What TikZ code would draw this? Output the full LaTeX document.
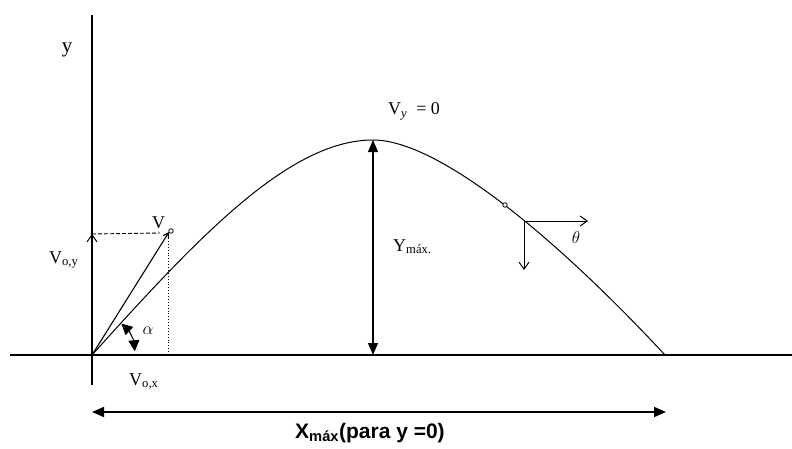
\documentclass[tikz,border=0pt]{standalone}
\usepackage{fontspec}
\setmainfont{Liberation Serif}
\newfontfamily\labsans{Liberation Sans}
\usetikzlibrary{arrows.meta}
\begin{document}
\begin{tikzpicture}[x=1pt,y=1pt,
  axis/.style={line width=2.6pt},
  traj/.style={line width=1pt},
  dimline/.style={line width=1.3pt,{Triangle[length=12pt,width=10pt]}-{Triangle[length=12pt,width=10pt]}},
  openarrow/.style={line width=1pt,-{Straight Barb[length=7pt,width=10pt]}},
  lab/.style={font=\fontsize{18}{20}\selectfont, inner sep=0pt},
  dot/.style={circle,draw,fill=white,line width=0.8pt,inner sep=0pt,minimum size=5pt}
]
\useasboundingbox (0,0) rectangle (792,448);
% axes
\coordinate (O) at (92,93);
\coordinate (ytop) at (92,433);
\coordinate (ybot) at (92,63);
\coordinate (xl) at (10,93);
\coordinate (xr) at (792,93);
\draw[axis] (ybot) -- (ytop);
\draw[axis] (xl) -- (xr);
% trajectory
\coordinate (peak) at (373,308);
\coordinate (land) at (665,93);
\draw[traj] (O) .. controls (200,213) and (290,308) .. (peak)
  .. controls (440,308) and (560,206) .. (land);
% Y max
\coordinate (ymb) at (373,93);
\draw[dimline] (ymb) -- (peak);
% initial velocity
\coordinate (Vtip) at (169,216);
\coordinate (Voy) at (92,214);
\coordinate (Vdash) at (160,215);
\coordinate (Vdt) at (168,210);
\coordinate (Vdb) at (168,93);
\draw[line width=1.1pt,-{Straight Barb[length=5pt,width=6pt]}] (O) -- (Vtip);
\node[dot,minimum size=4.5pt] (vtipdot) at (171,217) {};
\draw[openarrow] (O) -- (Voy);
\draw[line width=0.9pt,dash pattern=on 4pt off 2pt] (Voy) -- (Vdash);
\draw[line width=0.9pt,dotted] (Vdt) -- (Vdb);
% angle alpha
\draw[line width=1.1pt,{Triangle[length=11pt,width=11pt]}-{Triangle[length=11pt,width=11pt]}]
  ([shift={(5:43)}]O) arc[start angle=5,end angle=47,radius=43];
% point on curve and components
\node[dot,minimum size=4.5pt] (cdot) at (505,243) {};
\coordinate (P2) at (524,227);
\coordinate (P2x) at (588,227);
\coordinate (P2y) at (524,178);
\draw[openarrow] (P2) -- (P2x);
\draw[openarrow] (P2) -- (P2y);
% X max
\coordinate (xa) at (92,36);
\coordinate (xb) at (666,36);
\draw[dimline,line width=1.8pt] (xa) -- (xb);
% labels
\node[lab,font=\fontsize{21}{24}\selectfont] (ylab) at (67,398) {y};
\node[lab,anchor=base west] (vy0) at (388,333) {V\textsubscript{\itshape y}\ \ = 0};
\node[lab,anchor=base west] (ymax) at (393,197) {Y\textsubscript{máx.}};
\node[lab,anchor=base west] (vlab) at (152,220) {V};
\node[lab,anchor=base west] (voy) at (49,185) {V\textsubscript{o,y}};
\node[lab,anchor=base west] (vox) at (129,63) {V\textsubscript{o,x}};
\node[lab] (alpha) at (148,117) {$\alpha$};
\node[lab] (theta) at (576,211) {$\theta$};
\node[inner sep=0pt,anchor=base west,font=\labsans\bfseries\fontsize{21}{24}\selectfont] (xlab) at (295,10) {X\textsubscript{máx}(para y =0)};
\end{tikzpicture}
\end{document}
